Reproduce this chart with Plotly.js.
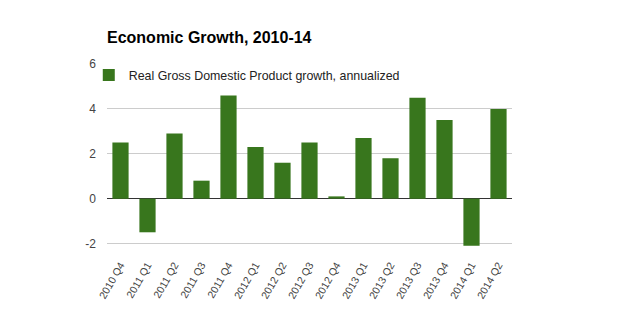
<!DOCTYPE html>
<html>
<head>
<meta charset="utf-8">
<script src="https://cdn.plot.ly/plotly-3.0.1.min.js"></script>
<style>html,body{margin:0;padding:0;background:#fff;}#chart{width:619px;height:328px;}</style>
</head>
<body>
<div id="chart"></div>
<script>
var quarters = ["2010 Q4","2011 Q1","2011 Q2","2011 Q3","2011 Q4","2012 Q1","2012 Q2","2012 Q3","2012 Q4","2013 Q1","2013 Q2","2013 Q3","2013 Q4","2014 Q1","2014 Q2"];
var gdpGrowth = [2.5,-1.5,2.9,0.8,4.6,2.3,1.6,2.5,0.1,2.7,1.8,4.5,3.5,-2.1,4.0];
var seriesName = "Real Gross Domestic Product growth, annualized";
var yTicks = [-2,0,2,4,6];

var trace = {
  type: 'bar',
  x: quarters,
  y: gdpGrowth,
  name: seriesName,
  marker: {color: '#38761d'},
  showlegend: true,
  hoverinfo: 'x+y'
};

var layout = {
  width: 619, height: 328,
  margin: {l: 107, r: 107, t: 64, b: 80, pad: 0},
  paper_bgcolor: '#fff', plot_bgcolor: '#fff',
  font: {family: 'Liberation Sans, Arial, sans-serif', color: '#444'},
  title: {
    text: '<b>Economic Growth, 2010-14</b>',
    font: {size: 16, color: '#000', family: 'Liberation Sans, Arial, sans-serif'},
    xref: 'paper', x: 0, xanchor: 'left',
    yref: 'container', y: 1 - 37/328, yanchor: 'middle'
  },
  bargap: 0.4,
  showlegend: true,
  legend: {
    x: -0.045, y: 1.02, xanchor: 'left', yanchor: 'top',
    bgcolor: 'rgba(0,0,0,0)',
    font: {size: 12.4, color: '#222'},
    itemwidth: 30, tracegroupgap: 0
  },
  xaxis: {
    type: 'category',
    tickangle: -60,
    tickfont: {size: 10.5, color: '#444'},
    showgrid: false, zeroline: false, showline: false,
    ticks: '', ticklabelstandoff: 8
  },
  yaxis: {
    range: [-2.2, 6],
    tickvals: yTicks,
    ticktext: yTicks.map(String),
    tickfont: {size: 12, color: '#444'},
    showgrid: true, gridcolor: '#cccccc', gridwidth: 1,
    zeroline: true, zerolinecolor: '#333', zerolinewidth: 1.5,
    showline: false, ticks: '', ticklabelstandoff: 10
  }
};

Plotly.newPlot('chart', [trace], layout, {staticPlot: true, displayModeBar: false});
</script>
</body>
</html>
